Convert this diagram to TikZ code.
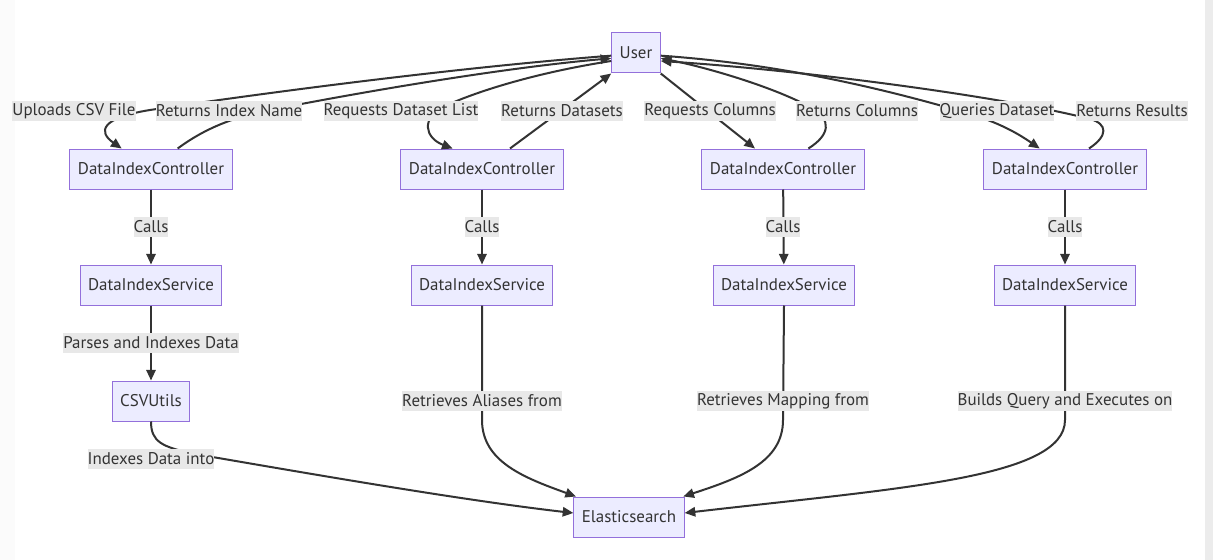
\documentclass[tikz,border=0pt]{standalone}
\usepackage{fontspec}
\setmainfont{PT Sans}
\usetikzlibrary{arrows.meta}

\definecolor{boxfill}{HTML}{ECECFF}
\definecolor{boxline}{HTML}{9370DB}
\definecolor{inkgray}{HTML}{333333}
\definecolor{lblgray}{HTML}{E8E8E8}

\begin{document}
\begin{tikzpicture}[>={Triangle[length=8pt,width=7pt]}, x=0.75pt, y=-0.75pt, font=\fontsize{12.7}{15}\selectfont,
	box/.style={draw=boxline, fill=boxfill, text=inkgray, line width=0.75pt, minimum height=30pt, inner xsep=6pt},
	edge/.style={draw=inkgray, line width=1.5pt, ->},
	lbl/.style={fill=lblgray, text=inkgray, inner sep=0pt, minimum height=15pt}]

%\draw[xstep=100,ystep=100,color=gray!80] (0, 0) grid (1213, 560);

\useasboundingbox (0, 0) rectangle (1213, 560);
\fill[white] (0, 0) rectangle (1213, 560);
\fill[gray!3] (0, 0) rectangle (15, 560);
\fill[gray!15] (1205, 0) rectangle (1213, 560);

\node[box] (user) at (636, 53) {User};

\node[box] (dic1) at (151, 169) {DataIndexController};
\node[box] (dic2) at (482, 169) {DataIndexController};
\node[box] (dic3) at (783, 169) {DataIndexController};
\node[box] (dic4) at (1065, 169) {DataIndexController};

\node[box] (dis1) at (151, 285) {DataIndexService};
\node[box] (dis2) at (482, 285) {DataIndexService};
\node[box] (dis3) at (784, 285) {DataIndexService};
\node[box] (dis4) at (1065, 285) {DataIndexService};

\node[box] (csv) at (151, 401) {CSVUtils};
\node[box] (es) at (629, 517) {Elasticsearch};

% user <-> controllers
\draw[edge] ([yshift=-2pt]user.west) .. controls (450, 68) and (250, 95) .. (150, 110) .. controls (100, 118) and (98, 132) .. ([xshift=-22pt]dic1.north);
\draw[edge] ([xshift=20pt]dic1.north) .. controls (200, 132) and (225, 120) .. (260, 112) .. controls (350, 94) and (500, 68) .. ([yshift=-4pt]user.west);
\draw[edge] ([yshift=-6pt]user.west) .. controls (540, 72) and (480, 90) .. (445, 106) .. controls (420, 118) and (425, 138) .. ([xshift=-22pt]dic2.north);
\draw[edge] ([xshift=21pt]dic2.north) -- (user.south west);
\draw[edge] (user.south east) -- ([xshift=-21pt]dic3.north);
\draw[edge] ([xshift=19pt]dic3.north) .. controls (830, 135) and (832, 120) .. (812, 108) .. controls (770, 85) and (700, 66) .. ([yshift=-4pt]user.east);
\draw[edge] ([yshift=-2pt]user.east) .. controls (780, 64) and (880, 88) .. (960, 111) .. controls (1000, 122) and (1020, 135) .. ([xshift=-19pt]dic4.north);
\draw[edge] ([xshift=18pt]dic4.north) .. controls (1108, 136) and (1108, 124) .. (1090, 119) .. controls (1000, 96) and (800, 70) .. ([yshift=-6pt]user.east);

% controllers -> services
\draw[edge] (dic1) -- (dis1);
\draw[edge] (dic2) -- (dis2);
\draw[edge] (dic3) -- (dis3);
\draw[edge] (dic4) -- (dis4);
\draw[edge] (dis1) -- (csv);

% into elasticsearch
\draw[edge] (csv.south) .. controls (151, 442) and (162, 447) .. (195, 454) .. controls (300, 472) and (460, 500) .. ([yshift=3pt]es.west);
\draw[edge] (dis2.south) -- (482, 420) .. controls (482, 462) and (525, 478) .. ([xshift=2pt]es.north west);
\draw[edge] (dis3.south) -- (783, 420) .. controls (783, 462) and (740, 478) .. ([xshift=-1pt]es.north east);
\draw[edge] (dis4.south) -- (1065, 420) .. controls (1065, 478) and (900, 488) .. ([yshift=3pt]es.east);

\node[lbl] (lupload) at (74, 111) {Uploads CSV File};
\node[lbl] (lindexname) at (229, 111) {Returns Index Name};
\node[lbl] (lreqlist) at (401, 111) {Requests Dataset List};
\node[lbl] (lretsets) at (562, 111) {Returns Datasets};
\node[lbl] (lreqcols) at (710, 111) {Requests Columns};
\node[lbl] (lretcols) at (857, 111) {Returns Columns};
\node[lbl] (lquery) at (997, 111) {Queries Dataset};
\node[lbl] (lresults) at (1132, 111) {Returns Results};

\node[lbl] (lcalls1) at (151, 227) {Calls};
\node[lbl] (lcalls2) at (482, 227) {Calls};
\node[lbl] (lcalls3) at (783, 227) {Calls};
\node[lbl] (lcalls4) at (1065, 227) {Calls};

\node[lbl] (lparse) at (151, 343) {Parses and Indexes Data};
\node[lbl] (laliases) at (482, 401) {Retrieves Aliases from};
\node[lbl] (lmapping) at (783, 401) {Retrieves Mapping from};
\node[lbl] (lquerybuild) at (1065, 401) {Builds Query and Executes on};
\node[lbl] (lindexinto) at (151, 459) {Indexes Data into};

\end{tikzpicture}
\end{document}
